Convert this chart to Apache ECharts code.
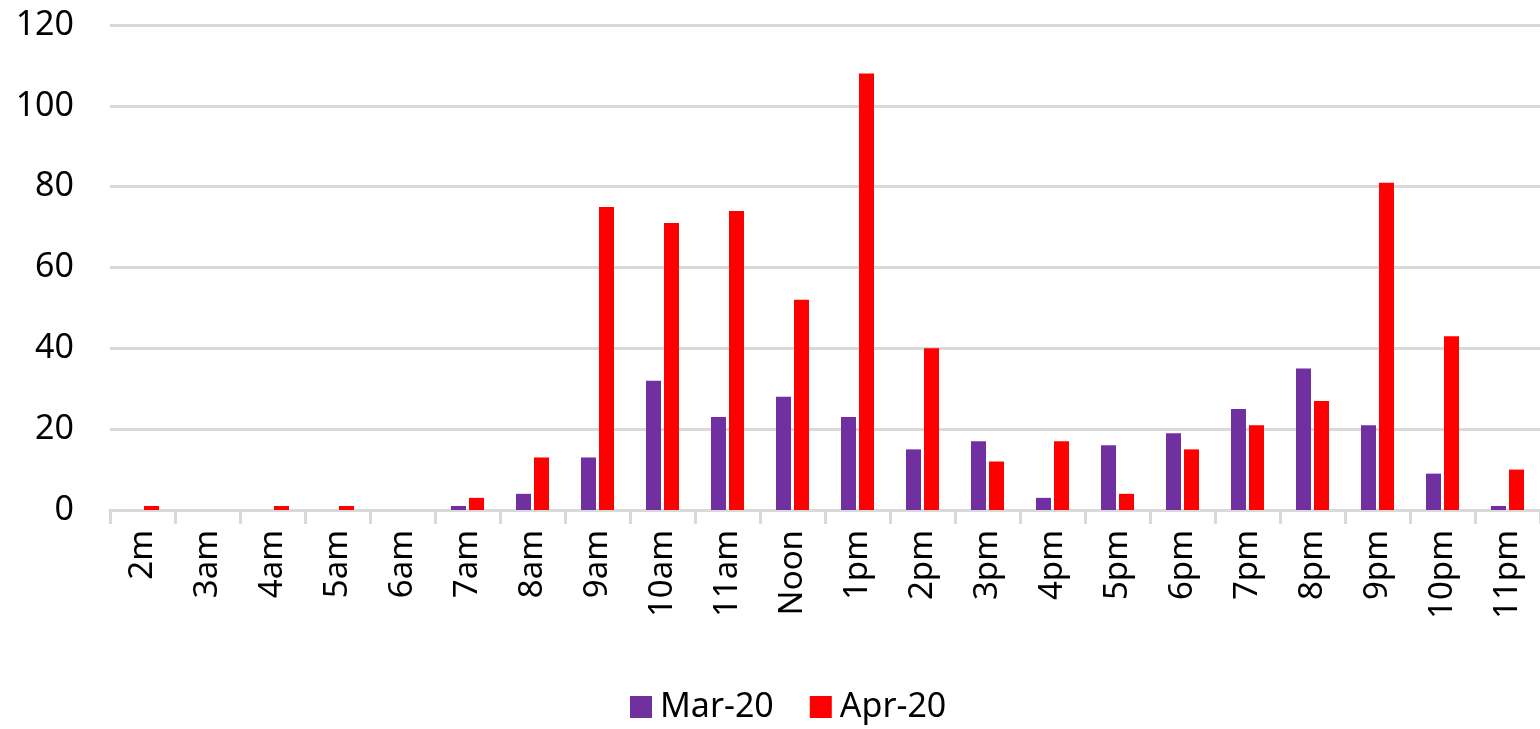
<!DOCTYPE html>
<html>
<head>
<meta charset="utf-8">
<script src="https://cdn.jsdelivr.net/npm/echarts@6/dist/echarts.min.js"></script>
<style>
  html, body { margin: 0; padding: 0; background: #fff; }
  #chart { width: 1540px; height: 729px; }
</style>
</head>
<body>
<div id="chart"></div>
<script>
// 小时分类
const hours = ['2m', '3am', '4am', '5am', '6am', '7am', '8am', '9am', '10am', '11am', 'Noon',
  '1pm', '2pm', '3pm', '4pm', '5pm', '6pm', '7pm', '8pm', '9pm', '10pm', '11pm']
const mar20 = [0, 0, 0, 0, 0, 1, 4, 13, 32, 23, 28, 23, 15, 17, 3, 16, 19, 25, 35, 21, 9, 1]
const apr20 = [1, 0, 1, 1, 0, 3, 13, 75, 71, 74, 52, 108, 40, 12, 17, 4, 15, 21, 27, 81, 43, 10]
const seriesNames = ['Mar-20', 'Apr-20']
const yTicks = [0, 20, 40, 60, 80, 100, 120]

const font = 'Noto Sans'
const gridColor = '#d9d9d9'

const chart = echarts.init(document.getElementById('chart'))

chart.setOption({
  animation: false,
  textStyle: { fontFamily: font },
  grid: { left: 110, right: 0, top: 25, bottom: 219 },
  legend: {
    data: seriesNames,
    icon: 'rect',
    bottom: 0,
    left: 625,
    itemWidth: 22,
    itemHeight: 22,
    itemGap: 36,
    textStyle: { fontSize: 34, color: '#000', fontFamily: font, padding: [0, 0, 0, 3] }
  },
  xAxis: {
    type: 'category',
    data: hours,
    axisLine: { lineStyle: { color: gridColor, width: 3 } },
    axisTick: { show: true, length: 14, lineStyle: { color: gridColor, width: 3 } },
    axisLabel: {
      rotate: 90,
      margin: 20,
      interval: 0,
      fontSize: 33,
      color: '#000'
    }
  },
  yAxis: {
    type: 'value',
    min: yTicks[0],
    max: yTicks[yTicks.length - 1],
    interval: 20,
    axisLine: { show: false },
    axisTick: { show: false },
    splitLine: { lineStyle: { color: gridColor, width: 3 } },
    axisLabel: { fontSize: 34, color: '#000', margin: 36 }
  },
  series: [
    {
      name: seriesNames[0],
      type: 'bar',
      data: mar20,
      barWidth: 15,
      barGap: '20%',
      itemStyle: { color: '#7030a0' }
    },
    {
      name: seriesNames[1],
      type: 'bar',
      data: apr20,
      barWidth: 15,
      barGap: '20%',
      itemStyle: { color: '#ff0000' }
    }
  ]
})
</script>
</body>
</html>
